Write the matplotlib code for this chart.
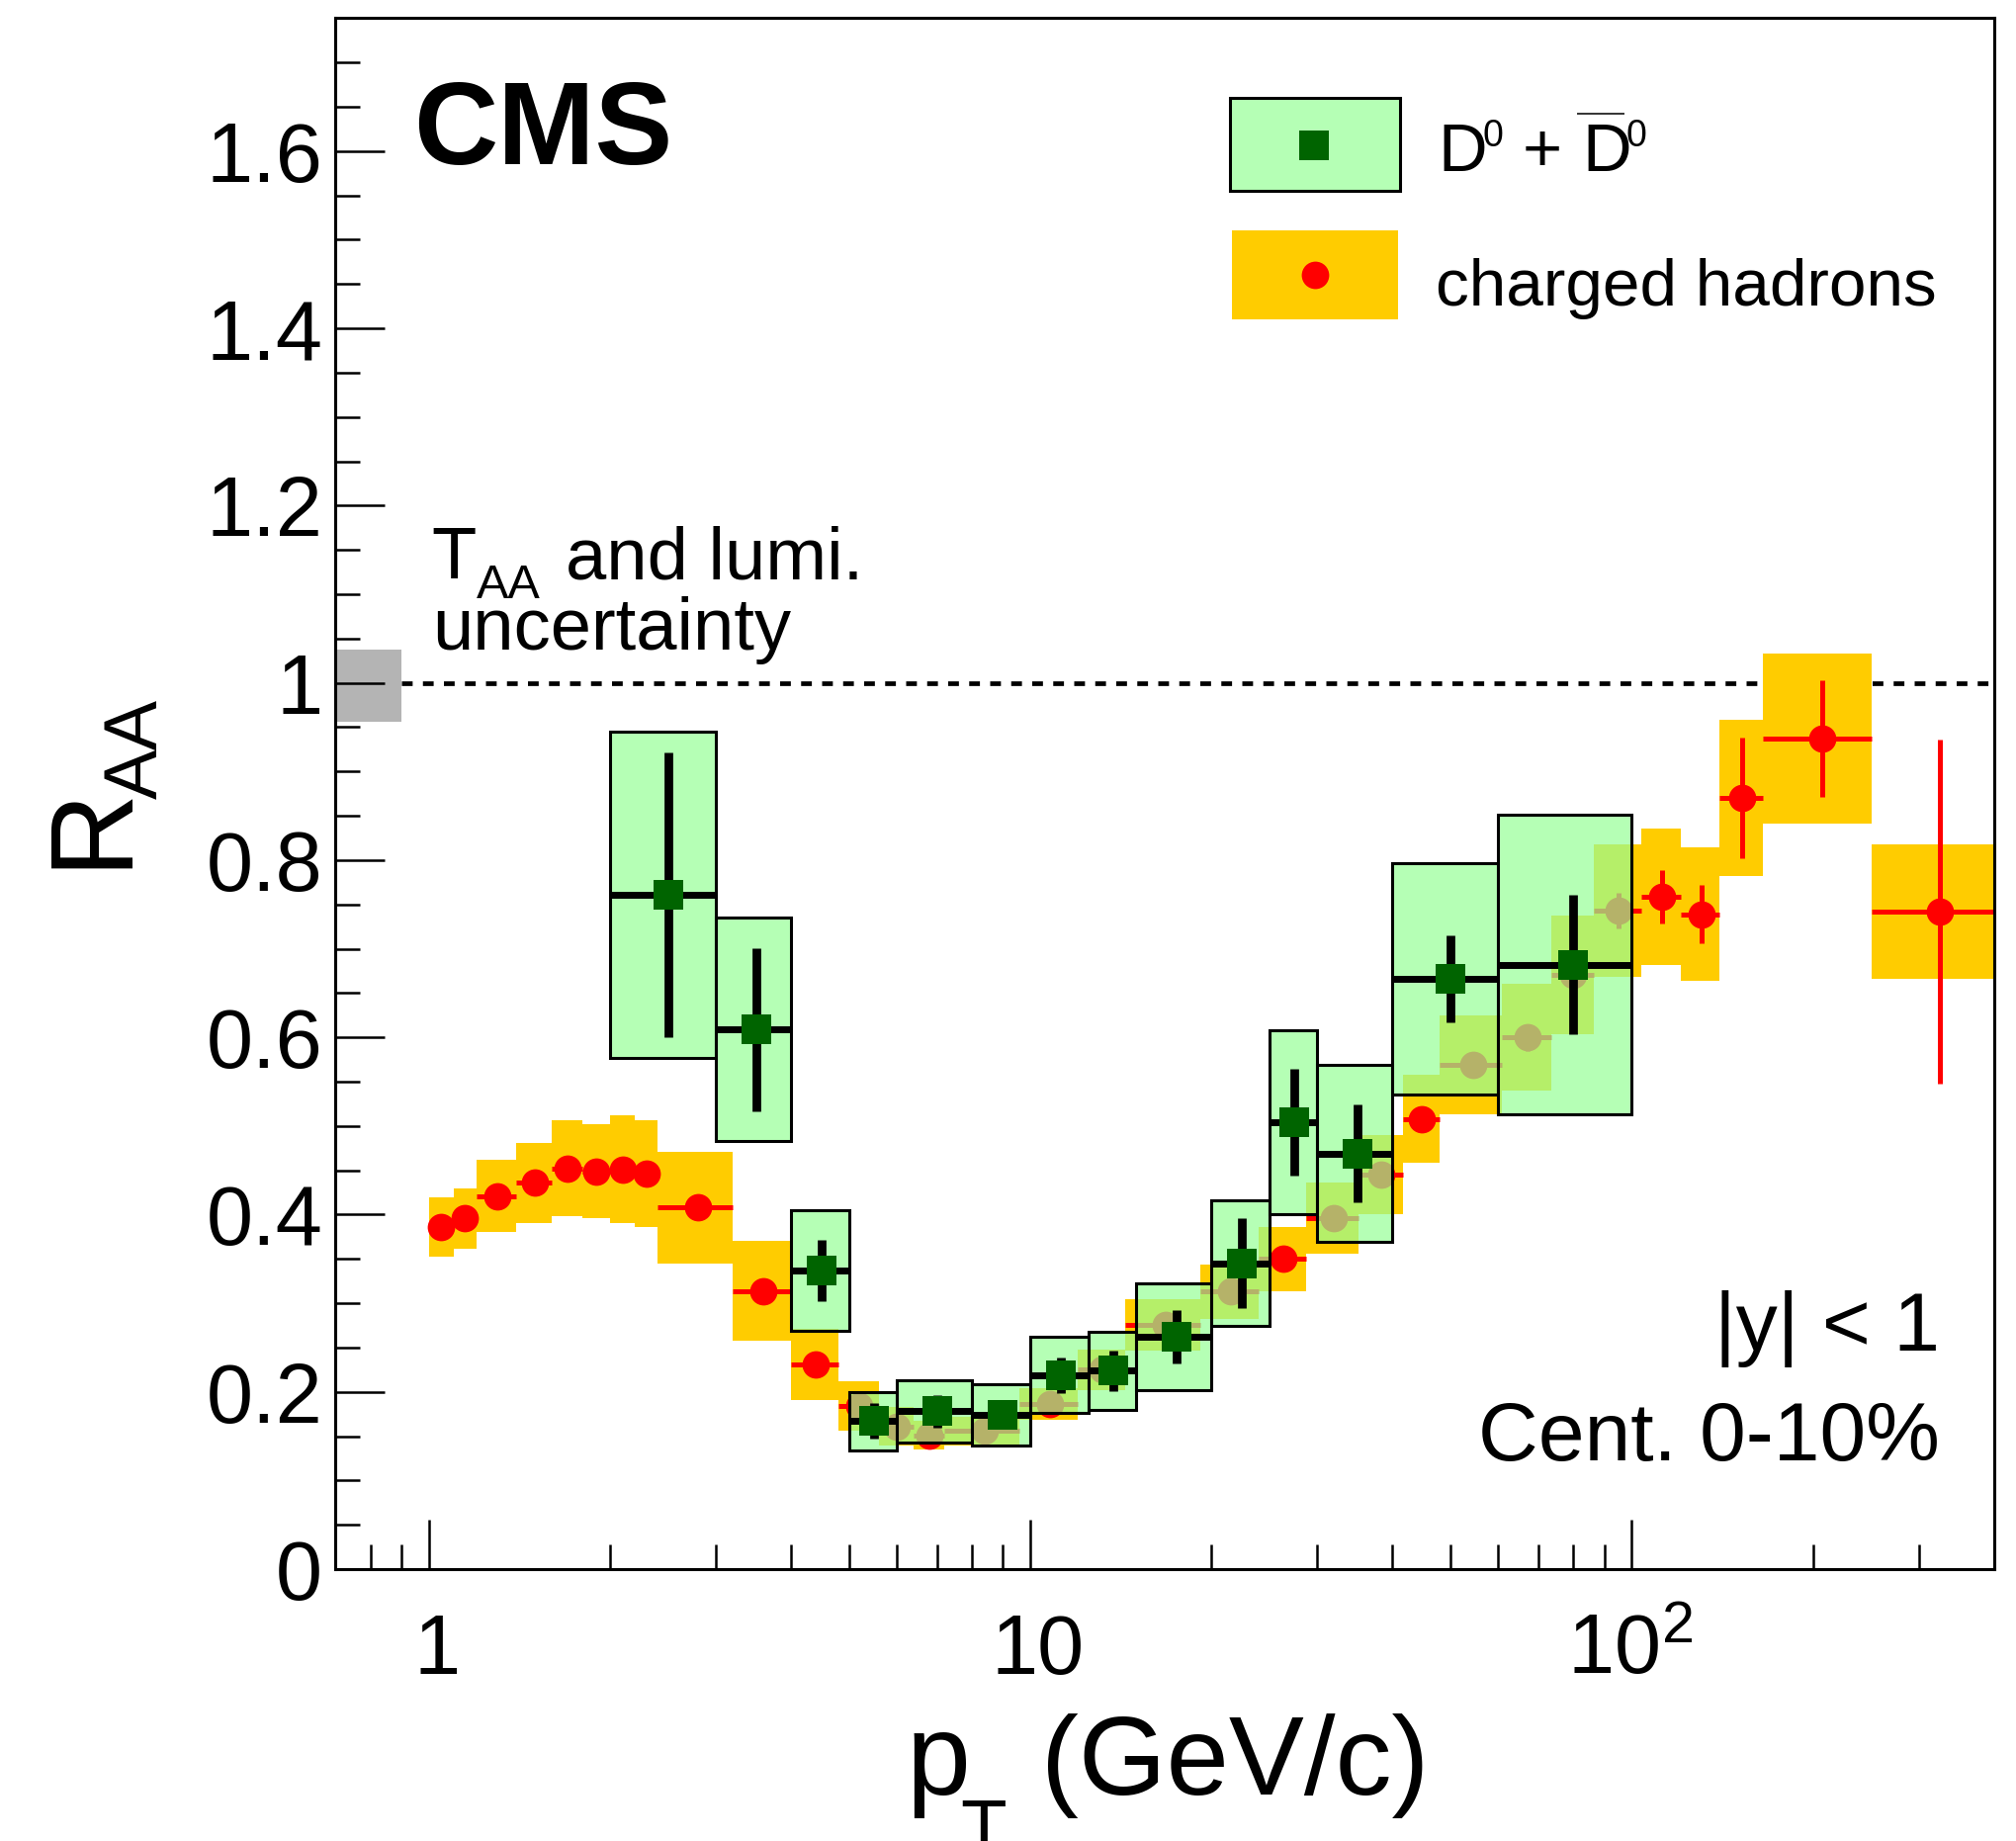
import matplotlib
matplotlib.use('Agg')
import matplotlib.pyplot as plt
import numpy as np
from matplotlib.patches import Rectangle
from matplotlib.lines import Line2D
from matplotlib.ticker import MultipleLocator, LogLocator, NullFormatter, FuncFormatter
from matplotlib.transforms import offset_copy

plt.rcParams['font.family'] = ['Liberation Sans', 'DejaVu Sans']
plt.rcParams['mathtext.fontset'] = 'custom'
plt.rcParams['mathtext.rm'] = 'Liberation Sans'
plt.rcParams['mathtext.it'] = 'Liberation Sans:italic'
plt.rcParams['mathtext.bf'] = 'Liberation Sans:bold'

# ── colours ──
YELLOW  = '#ffcc00'
RED     = '#ff0000'
DKGREEN = '#006400'
LTGREEN = '#96ff96b3'   # light green, ~70% opaque
GREY    = '#b4b4b4'

# ── charged hadrons (bin edges, centre, R_AA, stat, syst) ──
h_lo = [1.0, 1.1, 1.2, 1.4, 1.6, 1.8, 2.0, 2.2, 2.4, 3.2, 4.0, 4.8, 5.6, 6.4, 7.2, 9.6,
        12.0, 14.4, 19.2, 24.0, 28.8, 35.2, 41.6, 48.0, 60.8, 73.6, 86.4, 103.6, 120.8,
        140.0, 165.0, 250.0]
h_hi = [1.1, 1.2, 1.4, 1.6, 1.8, 2.0, 2.2, 2.4, 3.2, 4.0, 4.8, 5.6, 6.4, 7.2, 9.6, 12.0,
        14.4, 19.2, 24.0, 28.8, 35.2, 41.6, 48.0, 60.8, 73.6, 86.4, 103.6, 120.8, 140.0,
        165.0, 250.0, 400.0]
h_pt = [1.05, 1.15, 1.3, 1.5, 1.7, 1.9, 2.1, 2.3, 2.8, 3.6, 4.4, 5.2, 6.0, 6.8, 8.4, 10.8,
        13.2, 16.8, 21.6, 26.4, 32.0, 38.4, 44.8, 54.4, 67.2, 80.0, 95.0, 112.2, 130.4,
        152.5, 207.5, 325.0]
h_raa = [0.386, 0.396, 0.421, 0.436, 0.452, 0.449, 0.451, 0.446, 0.408, 0.314, 0.231,
         0.184, 0.161, 0.151, 0.156, 0.186, 0.225, 0.276, 0.313, 0.350, 0.396, 0.445,
         0.508, 0.569, 0.600, 0.670, 0.743, 0.759, 0.739, 0.870, 0.937, 0.742]
h_stat = [0.002, 0.002, 0.002, 0.002, 0.002, 0.002, 0.002, 0.002, 0.002, 0.002, 0.002,
          0.002, 0.002, 0.002, 0.002, 0.003, 0.004, 0.005, 0.006, 0.008, 0.010, 0.012,
          0.013, 0.014, 0.015, 0.017, 0.020, 0.030, 0.033, 0.068, 0.066, 0.194]
h_syst = [0.034, 0.034, 0.041, 0.045, 0.054, 0.053, 0.061, 0.060, 0.063, 0.056, 0.040,
          0.028, 0.022, 0.016, 0.016, 0.018, 0.023, 0.029, 0.031, 0.036, 0.040, 0.045,
          0.050, 0.056, 0.060, 0.067, 0.075, 0.077, 0.075, 0.088, 0.096, 0.076]

# ── D0 + D0bar ──
d_lo = [2, 3, 4, 5, 6, 8, 10, 12.5, 15, 20, 25, 30, 40, 60]
d_hi = [3, 4, 5, 6, 8, 10, 12.5, 15, 20, 25, 30, 40, 60, 100]
d_pt = [2.5, 3.5, 4.5, 5.5, 7, 9, 11.25, 13.75, 17.5, 22.5, 27.5, 35, 50, 80]
d_raa = [0.761, 0.609, 0.337, 0.167, 0.178, 0.174, 0.219, 0.224, 0.262, 0.345, 0.504,
         0.469, 0.666, 0.682]
d_stat = [0.161, 0.092, 0.035, 0.020, 0.018, 0.012, 0.020, 0.023, 0.030, 0.051, 0.060,
          0.055, 0.049, 0.079]
d_syst = [0.184, 0.126, 0.068, 0.033, 0.035, 0.035, 0.043, 0.044, 0.060, 0.071, 0.104,
          0.100, 0.131, 0.169]

# T_AA + lumi normalisation band at unity
TAA_LOW, TAA_HIGH, TAA_XMAX = 0.956, 1.037, 0.9

XLIM = (0.7, 400)
YLIM = (0, 1.75)

W, H = 2039, 1862
def fx(x):
    return x / W
def fy(y):
    return 1 - y / H

fig = plt.figure(figsize=(W / 100, H / 100), dpi=100)
ax = fig.add_axes([339.3 / W, 1 - 1587 / H, (2016.7 - 339.3) / W, (1587 - 18.3) / H])
ax.set_xscale('log')
ax.set_xlim(*XLIM)
ax.set_ylim(*YLIM)

h_lo_a, h_hi_a, h_pt_a = np.array(h_lo), np.array(h_hi), np.array(h_pt)
h_raa_a, h_syst_a = np.array(h_raa), np.array(h_syst)
d_lo_a, d_hi_a = np.array(d_lo), np.array(d_hi)
d_raa_a, d_syst_a, d_stat_a = np.array(d_raa), np.array(d_syst), np.array(d_stat)

# reference line and normalisation box
ax.hlines(1.0, TAA_XMAX, XLIM[1], colors='black', lw=3.4, linestyles=(0, (2.3, 2.2)), zorder=1)
ax.add_patch(Rectangle((XLIM[0], TAA_LOW), TAA_XMAX - XLIM[0], TAA_HIGH - TAA_LOW,
                       facecolor=GREY, edgecolor='none', zorder=1.5))

# charged hadrons: syst boxes + points
ax.bar(h_lo_a, 2 * h_syst_a, width=h_hi_a - h_lo_a, bottom=h_raa_a - h_syst_a, align='edge',
       color=YELLOW, edgecolor='none', linewidth=0, zorder=2)
ax.errorbar(h_pt_a, h_raa_a, xerr=[h_pt_a - h_lo_a, h_hi_a - h_pt_a], yerr=h_stat,
            fmt='o', color=RED, ms=20, mew=0, elinewidth=3.6, capsize=0, zorder=3)

# D0: syst boxes + stat bars + points
ax.bar(d_lo_a, 2 * d_syst_a, width=d_hi_a - d_lo_a, bottom=d_raa_a - d_syst_a, align='edge',
       facecolor=LTGREEN, edgecolor='black', linewidth=2.2, zorder=4)
ax.hlines(d_raa_a, d_lo_a, d_hi_a, colors='black', lw=5, zorder=5)
ax.vlines(d_pt, d_raa_a - d_stat_a, d_raa_a + d_stat_a, colors='black', lw=6.3, zorder=5)
ax.plot(d_pt, d_raa, 's', color=DKGREEN, ms=21, mew=0, zorder=6)

# axes styling (ROOT look)
for sp in ax.spines.values():
    sp.set_linewidth(2.2)
    sp.set_zorder(10)
ax.yaxis.set_major_locator(MultipleLocator(0.2))
ax.yaxis.set_minor_locator(MultipleLocator(0.05))
ax.yaxis.set_major_formatter(FuncFormatter(lambda v, p: '%g' % round(v, 2)))
ax.xaxis.set_major_locator(LogLocator(base=10, numticks=10))
ax.xaxis.set_minor_locator(LogLocator(base=10, subs=np.arange(2, 10), numticks=20))
ax.xaxis.set_major_formatter(NullFormatter())
ax.xaxis.set_minor_formatter(NullFormatter())
ax.tick_params(which='both', direction='in', top=False, right=False, width=1.8)
ax.tick_params(which='major', length=36)
ax.tick_params(which='minor', length=18)
ax.tick_params(axis='y', which='major', labelsize=61, pad=9.4)

# x tick labels, baseline-aligned like ROOT
for v, s, dx in [(1, '1', 9), (10, '10', 8), (100, r'$\mathregular{10^{2}}$', -2)]:
    tr = offset_copy(ax.get_xaxis_transform(), fig=fig, x=dx, y=-106, units='dots')
    ax.text(v, 0, s, transform=tr, ha='center', va='baseline', fontsize=61)

# axis titles
fig.text(fx(916), fy(1815), 'p', fontsize=84, ha='left', va='baseline')
fig.text(fx(971), fy(1874), 'T', fontsize=55, ha='left', va='baseline')
fig.text(fx(1053), fy(1815), '(GeV/c)', fontsize=82, ha='left', va='baseline')
fig.text(fx(125), fy(878), 'R', fontsize=85, rotation=90, rotation_mode='anchor',
         ha='left', va='baseline')
fig.text(fx(159), fy(808), 'AA', fontsize=54.5, rotation=90, rotation_mode='anchor',
         ha='left', va='baseline')

# labels inside the frame
fig.text(fx(418), fy(166), 'CMS', fontsize=85, fontweight='bold', ha='left', va='baseline')
fig.text(fx(436), fy(585), 'T', fontsize=53.5, ha='left', va='baseline')
fig.text(fx(481.7), fy(605), 'AA', fontsize=35, ha='left', va='baseline')
fig.text(fx(571.7), fy(585), 'and lumi.', fontsize=53.5, ha='left', va='baseline')
fig.text(fx(437.3), fy(657), 'uncertainty', fontsize=53.5, ha='left', va='baseline')
fig.text(fx(1962), fy(1366), '|y| < 1', fontsize=60.5, ha='right', va='baseline')
fig.text(fx(1962), fy(1477), 'Cent. 0-10%', fontsize=60.5, ha='right', va='baseline')

# legend
fig.add_artist(Rectangle((fx(1244), fy(192.7)), (1415.7 - 1244) / W, (192.7 - 99) / H,
                         transform=fig.transFigure, facecolor=LTGREEN, edgecolor='black',
                         linewidth=2.2))
fig.add_artist(Line2D([fx(1329.3)], [fy(146.7)], marker='s', color=DKGREEN, ms=21, mew=0,
                      transform=fig.transFigure))
fig.add_artist(Rectangle((fx(1246), fy(323.3)), (1414 - 1246) / W, (323.3 - 233.3) / H,
                         transform=fig.transFigure, facecolor=YELLOW, edgecolor='none'))
fig.add_artist(Line2D([fx(1330)], [fy(278.3)], marker='o', color=RED, ms=20, mew=0,
                      transform=fig.transFigure))
# "D0 + D0bar" composed piece by piece, ROOT-style
fig.text(fx(1454), fy(172.7), 'D', fontsize=49.5, ha='left', va='baseline')
fig.text(fx(1499.3), fy(148.3), '0', fontsize=27, ha='left', va='baseline')
fig.text(fx(1539.3), fy(172.7), '+', fontsize=49.5, ha='left', va='baseline')
fig.text(fx(1600.7), fy(172.7), 'D', fontsize=49.5, ha='left', va='baseline')
fig.text(fx(1645), fy(148.3), '0', fontsize=27, ha='left', va='baseline')
fig.add_artist(Line2D([fx(1596), fx(1642.3)], [fy(115), fy(115)], color='#333333', lw=1.4,
                      transform=fig.transFigure))
fig.text(fx(1452), fy(309.3), 'charged hadrons', fontsize=48.6, ha='left', va='baseline')

fig.savefig('out.png', dpi=100, facecolor='white')
